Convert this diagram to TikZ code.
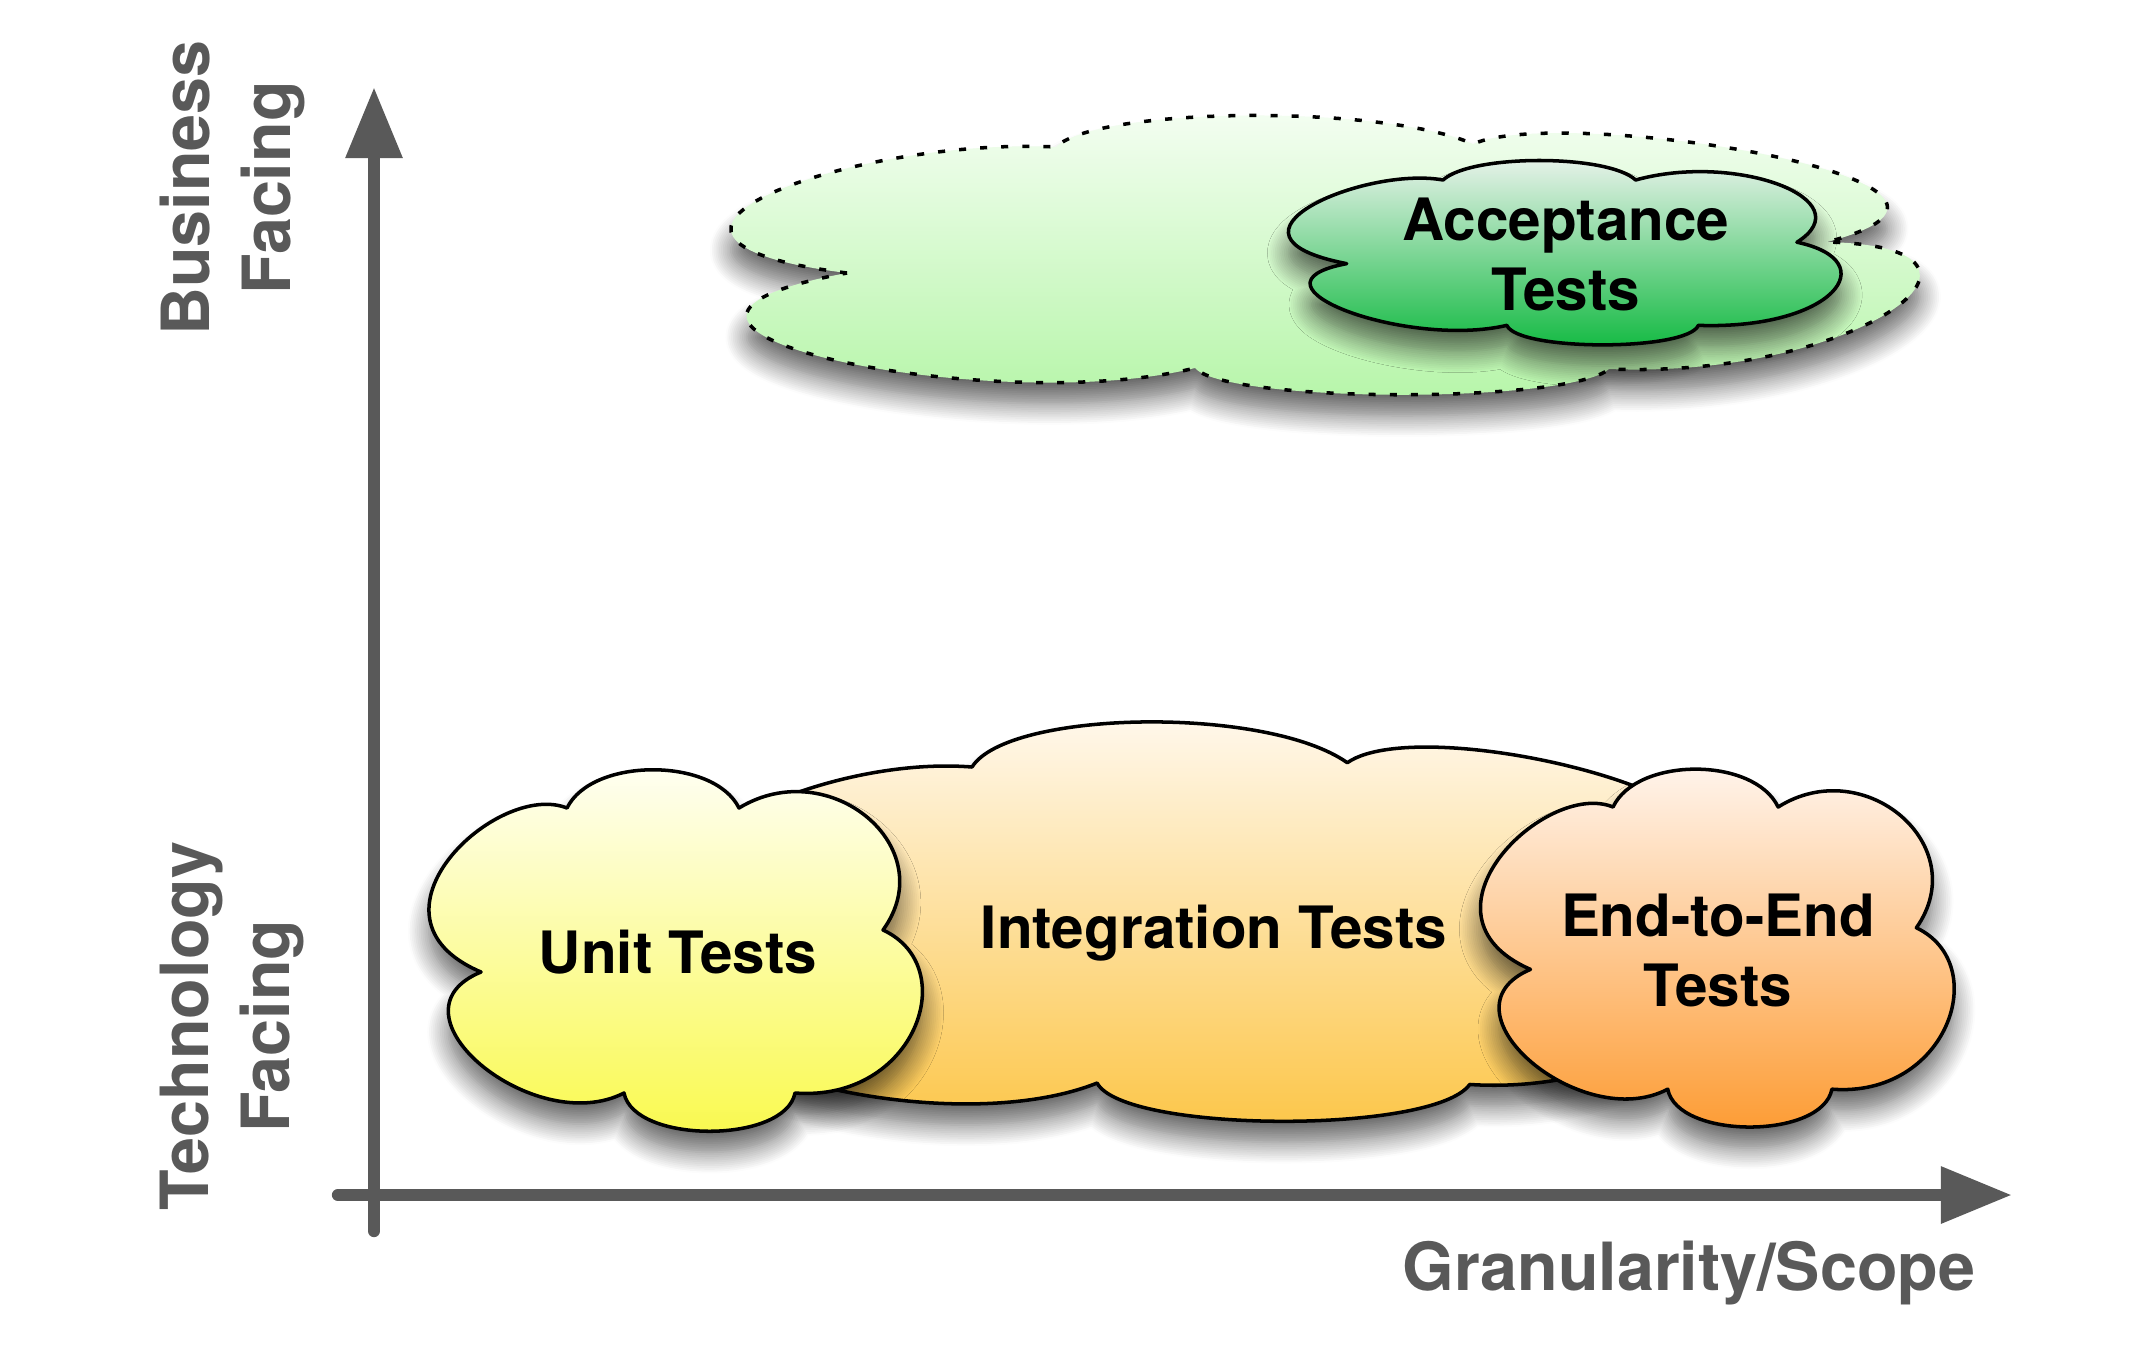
\documentclass[tikz,border=0pt]{standalone}
\usepackage{fontspec}
\setmainfont{TeX Gyre Heros}
\usepackage{xcolor}
\usepackage{tikz}
\usetikzlibrary{arrows.meta}
\usetikzlibrary{shadows.blur}

\definecolor{axisgray}{HTML}{595959}
\definecolor{greentop}{HTML}{F5FEF3}
\definecolor{greenbot}{HTML}{B3F5A5}
\definecolor{acctop}{HTML}{EEF4EF}
\definecolor{accbot}{HTML}{10B940}
\definecolor{unittop}{HTML}{FFFFF8}
\definecolor{unitbot}{HTML}{F9F94B}
\definecolor{integtop}{HTML}{FFF9F0}
\definecolor{integbot}{HTML}{FCC33F}
\definecolor{etetop}{HTML}{FFF7F2}
\definecolor{etebot}{HTML}{FD9A30}

% small cloud, cusp at top left is the origin
\newcommand{\cloudA}{(-86,164)
  .. controls +(-130,-55) and +(-70,-28) .. (0,0)
  .. controls +(25,-51) and +(-25,-51) .. (172,0)
  .. controls +(90,-55) and +(60,-83) .. (316,122)
  .. controls +(80,37) and +(120,9) .. (228,285)
  .. controls +(-10,51) and +(10,51) .. (57,285)
  .. controls +(-90,46) and +(-100,41) .. (-86,164) -- cycle}
% wide cloud
\newcommand{\cloudB}{(-209,126)
  .. controls +(-280,-35) and +(-200,-10) .. (0,0)
  .. controls +(40,-40) and +(-90,-40) .. (417,-3)
  .. controls +(90,-40) and +(230,-60) .. (771,95)
  .. controls +(210,5) and +(250,10) .. (553,222)
  .. controls +(-40,35) and +(30,35) .. (139,221)
  .. controls +(-200,50) and +(-300,55) .. (-209,126) -- cycle}

\begin{document}
\begin{tikzpicture}[
          x=0.01cm, y=-0.01cm,
          cloudline/.style={draw=black,line width=1pt,line join=round,
            blur shadow={shadow xshift=0pt,shadow yshift=-6pt,
              shadow blur radius=6pt,shadow blur steps=12,shadow opacity=60}},
          cloudtext/.style={font=\bfseries\fontsize{16.6}{19.9}\selectfont,
            align=center,inner sep=0pt},
          axislabel/.style={font=\bfseries\fontsize{18.9}{23}\selectfont,
            text=axisgray,align=center,inner sep=0pt},
          axis/.style={draw=axisgray,line width=3.5pt,line cap=round,
            -{Triangle[length=7.1mm,width=5.4mm]}}
          ]
          \useasboundingbox (0,0) rectangle (2137,1345);

          % axes
          \coordinate (ystart) at (374,1231);
          \coordinate (yend) at (374,87);
          \coordinate (xstart) at (338,1195);
          \coordinate (xend) at (2012,1195);
          \draw[axis] (ystart) -- (yend);
          \draw[axis] (xstart) -- (xend);

          % business facing clouds
          \begin{scope}[shift={(1056,147)}]
            \path[cloudline,dash pattern=on 2pt off 4pt,
              top color=greentop,bottom color=greenbot] \cloudB;
          \end{scope}
          \begin{scope}[shift={(1443,180)},xscale=1.12,yscale=0.51]
            \path[cloudline,top color=acctop,bottom color=accbot] \cloudA;
          \end{scope}

          % technology facing clouds
          \begin{scope}[shift={(972,767)},xscale=0.9,yscale=1.43]
            \path[cloudline,top color=integtop,bottom color=integbot] \cloudB;
          \end{scope}
          \begin{scope}[shift={(567,808)}]
            \path[cloudline,top color=unittop,bottom color=unitbot] \cloudA;
          \end{scope}
          \begin{scope}[shift={(1613,807)},xscale=0.96,yscale=0.99]
            \path[cloudline,top color=etetop,bottom color=etebot] \cloudA;
          \end{scope}

          \node[cloudtext,anchor=north] (accept) at (1566,197) {Acceptance\\Tests};
          \node[cloudtext,anchor=base] (integ) at (1214,948) {Integration Tests};
          \node[cloudtext,anchor=base] (unit) at (678,973) {Unit Tests};
          \node[cloudtext,anchor=north] (e2e) at (1718,893) {End-to-End\\Tests};

          \node[axislabel,rotate=90,anchor=north] (biz) at (159,188) {Business\\Facing};
          \node[axislabel,rotate=90,anchor=north] (tech) at (159,1026) {Technology\\Facing};
          \node[axislabel,anchor=base] (scope) at (1689,1290) {Granularity/Scope};
        \end{tikzpicture}
\end{document}
